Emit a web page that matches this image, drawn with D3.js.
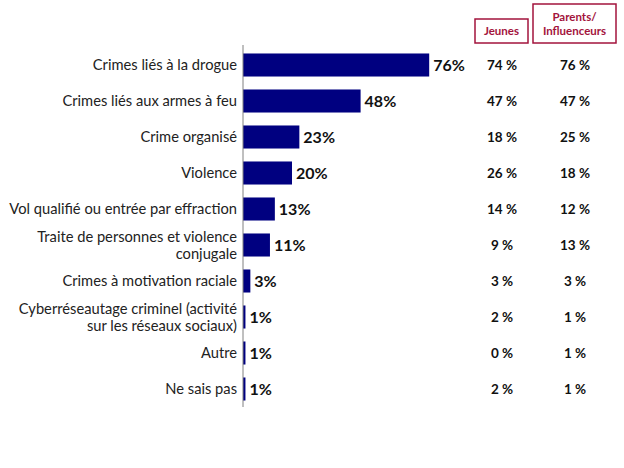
<!DOCTYPE html>
<html><head><meta charset="utf-8">
<script src="https://cdn.jsdelivr.net/npm/d3@7"></script>
<style>body{margin:0;background:#fff}svg{display:block}</style>
</head><body>
<script>
const categories = [
  "Crimes liés à la drogue",
  "Crimes liés aux armes à feu",
  "Crime organisé",
  "Violence",
  "Vol qualifié ou entrée par effraction",
  "Traite de personnes et violence|conjugale",
  "Crimes à motivation raciale",
  "Cyberréseautage criminel (activité|sur les réseaux sociaux)",
  "Autre",
  "Ne sais pas"
];
const totalValues = [76, 48, 23, 20, 13, 11, 3, 1, 1, 1];
const jeunesValues = [74, 47, 18, 26, 14, 9, 3, 2, 0, 2];
const parentsValues = [76, 47, 25, 18, 12, 13, 3, 1, 1, 1];
const columnHeaders = ["Jeunes", "Parents/|Influenceurs"];

const W = 624, H = 468;
const svg = d3.select("body").append("svg").attr("width", W).attr("height", H);
const font = "Lato, 'Open Sans', sans-serif";
const axisX = 243;

const y = d3.scaleBand().domain(categories).range([47, 407]).paddingInner(0.36).paddingOuter(0.18);
const x = d3.scaleLinear().domain([0, 100]).range([axisX, axisX + 245]);

svg.selectAll("rect.bar").data(categories).join("rect")
  .attr("class", "bar")
  .attr("x", x(0))
  .attr("y", d => y(d))
  .attr("height", y.bandwidth())
  .attr("width", (d, i) => x(totalValues[i]) - x(0))
  .attr("fill", "#000080");

svg.selectAll("text.val").data(categories).join("text")
  .attr("x", (d, i) => x(totalValues[i]) + 4)
  .attr("y", d => y(d) + y.bandwidth() / 2)
  .attr("dy", "0.36em")
  .attr("font-family", font).attr("font-weight", "bold").attr("font-size", 16)
  .attr("fill", "#111")
  .text((d, i) => totalValues[i] + "%");

svg.append("line").attr("x1", axisX).attr("x2", axisX).attr("y1", 45).attr("y2", 407)
  .attr("stroke", "#808080").attr("stroke-width", 1);

const lab = svg.selectAll("text.cat").data(categories).join("text")
  .attr("text-anchor", "end")
  .attr("font-family", font).attr("font-size", 14.7).attr("fill", "#222");
lab.each(function(d) {
  const lines = d.split("|");
  const cy = y(d) + y.bandwidth() / 2;
  const t = d3.select(this);
  lines.forEach((l, k) => {
    t.append("tspan").attr("x", 237)
      .attr("y", cy + (k - (lines.length - 1) / 2) * 17.5)
      .attr("dy", "0.36em").text(l);
  });
});

const colX = [502, 575];
[jeunesValues, parentsValues].forEach((vals, c) => {
  svg.selectAll("text.col" + c).data(categories).join("text")
    .attr("x", colX[c])
    .attr("y", d => y(d) + y.bandwidth() / 2)
    .attr("dy", "0.36em").attr("text-anchor", "middle")
    .attr("font-family", font).attr("font-weight", "bold").attr("font-size", 13.5)
    .attr("fill", "#111")
    .text((d, i) => vals[i] + " %");
});

const boxes = [{x: 475, y: 19, w: 53, h: 24}, {x: 533, y: 4, w: 83, h: 39}];
const red = "#a3133c";
columnHeaders.forEach((h, c) => {
  const b = boxes[c];
  svg.append("rect").attr("x", b.x).attr("y", b.y).attr("width", b.w).attr("height", b.h)
    .attr("fill", "none").attr("stroke", red).attr("stroke-width", 1.5);
  const lines = h.split("|");
  const t = svg.append("text").attr("text-anchor", "middle")
    .attr("font-family", font).attr("font-weight", "bold").attr("font-size", 11.5).attr("fill", red);
  lines.forEach((l, k) => {
    t.append("tspan").attr("x", b.x + b.w / 2)
      .attr("y", b.y + b.h / 2 + (k - (lines.length - 1) / 2) * 14)
      .attr("dy", "0.36em").text(l);
  });
});
</script>
</body></html>
